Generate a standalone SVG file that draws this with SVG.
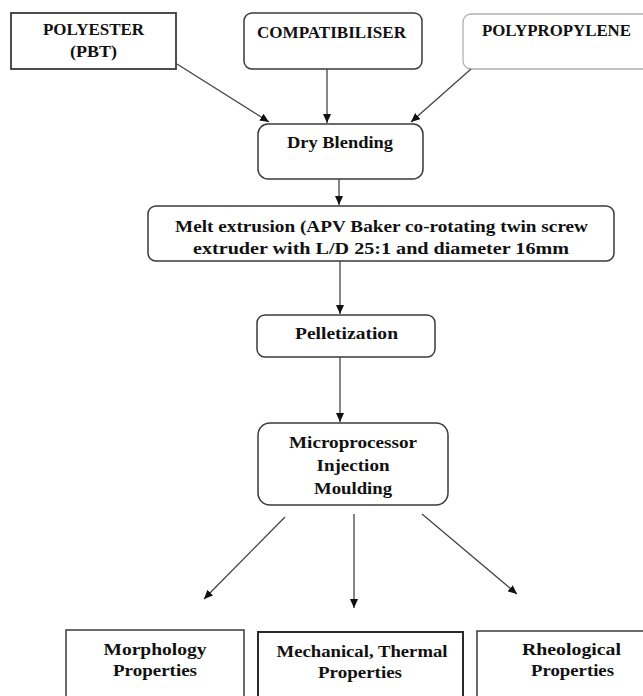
<svg xmlns="http://www.w3.org/2000/svg" width="643" height="696" viewBox="0 0 643 696">
<style>
.box{fill:#fff;stroke:#3a3a3a;stroke-width:1.5}
.light{fill:#fff;stroke:#b0b0b0;stroke-width:1.3}
.thick{fill:#fff;stroke:#2a2a2a;stroke-width:2}
.t{font-family:"Liberation Serif","Times New Roman",serif;font-weight:bold;fill:#111;text-anchor:middle}
.cap{font-size:16px}
.lbl{font-size:17px}
.conn line{stroke:#444;stroke-width:1.3;marker-end:url(#ah)}
</style>
<defs>
<marker id="ah" markerUnits="userSpaceOnUse" markerWidth="9" markerHeight="8" refX="9" refY="4" orient="auto">
<path d="M0,0 L9,4 L0,8 z" fill="#111"/>
</marker>
</defs>
<rect width="643" height="696" fill="#fff"/>
<g id="polyester">
<rect class="box" x="11" y="13" width="165" height="56" style="stroke-width:1.8"/>
<text class="t cap" x="93.5" y="35" textLength="101" lengthAdjust="spacingAndGlyphs">POLYESTER</text>
<text class="t cap" x="93.5" y="57" textLength="47" lengthAdjust="spacingAndGlyphs">(PBT)</text>
</g>
<g id="compatibiliser">
<rect class="box" x="244" y="13" width="178" height="56" rx="8"/>
<text class="t cap" x="331.5" y="38" textLength="149" lengthAdjust="spacingAndGlyphs">COMPATIBILISER</text>
</g>
<g id="polypropylene">
<rect class="light" x="463" y="14" width="190" height="55" rx="8"/>
<text class="t cap" x="556.5" y="36" textLength="149" lengthAdjust="spacingAndGlyphs">POLYPROPYLENE</text>
</g>
<g id="dry">
<rect class="box" x="258" y="124" width="165" height="55" rx="10"/>
<text class="t lbl" x="340" y="148" textLength="106" lengthAdjust="spacingAndGlyphs">Dry Blending</text>
</g>
<g id="melt">
<rect class="box" x="148" y="206" width="466" height="55" rx="8"/>
<text class="t lbl" x="381.5" y="232" textLength="413" lengthAdjust="spacingAndGlyphs">Melt extrusion (APV Baker co-rotating twin screw</text>
<text class="t lbl" x="381" y="254" textLength="376" lengthAdjust="spacingAndGlyphs">extruder with L/D 25:1 and diameter 16mm</text>
</g>
<g id="pellet">
<rect class="box" x="257" y="315" width="178" height="42" rx="8"/>
<text class="t lbl" x="346.5" y="339" textLength="103" lengthAdjust="spacingAndGlyphs">Pelletization</text>
</g>
<g id="micro">
<rect class="box" x="258" y="423" width="190" height="82" rx="12"/>
<text class="t lbl" x="353" y="448" textLength="128" lengthAdjust="spacingAndGlyphs">Microprocessor</text>
<text class="t lbl" x="353" y="471" textLength="73" lengthAdjust="spacingAndGlyphs">Injection</text>
<text class="t lbl" x="353" y="494" textLength="78" lengthAdjust="spacingAndGlyphs">Moulding</text>
</g>
<g id="morph">
<rect class="box" x="66" y="630" width="178" height="80"/>
<text class="t lbl" x="155" y="655" textLength="103" lengthAdjust="spacingAndGlyphs">Morphology</text>
<text class="t lbl" x="155" y="676" textLength="84" lengthAdjust="spacingAndGlyphs">Properties</text>
</g>
<g id="mech">
<rect class="thick" x="258" y="632" width="205" height="80"/>
<text class="t lbl" x="362" y="657" textLength="171" lengthAdjust="spacingAndGlyphs">Mechanical, Thermal</text>
<text class="t lbl" x="360" y="678" textLength="84" lengthAdjust="spacingAndGlyphs">Properties</text>
</g>
<g id="rheo">
<rect class="box" x="477" y="631" width="180" height="80"/>
<text class="t lbl" x="571.5" y="655" textLength="99" lengthAdjust="spacingAndGlyphs">Rheological</text>
<text class="t lbl" x="572.5" y="676" textLength="83" lengthAdjust="spacingAndGlyphs">Properties</text>
</g>
<g id="connectors" class="conn">
<line x1="177" y1="64" x2="269" y2="122"/>
<line x1="327" y1="69" x2="327" y2="123"/>
<line x1="471" y1="69" x2="411" y2="122"/>
<line x1="339" y1="179" x2="339" y2="205"/>
<line x1="340" y1="261" x2="340" y2="314"/>
<line x1="340" y1="357" x2="340" y2="422"/>
<line x1="285" y1="517" x2="204" y2="599"/>
<line x1="354" y1="514" x2="354" y2="608"/>
<line x1="422" y1="514" x2="517" y2="594"/>
</g>
</svg>
